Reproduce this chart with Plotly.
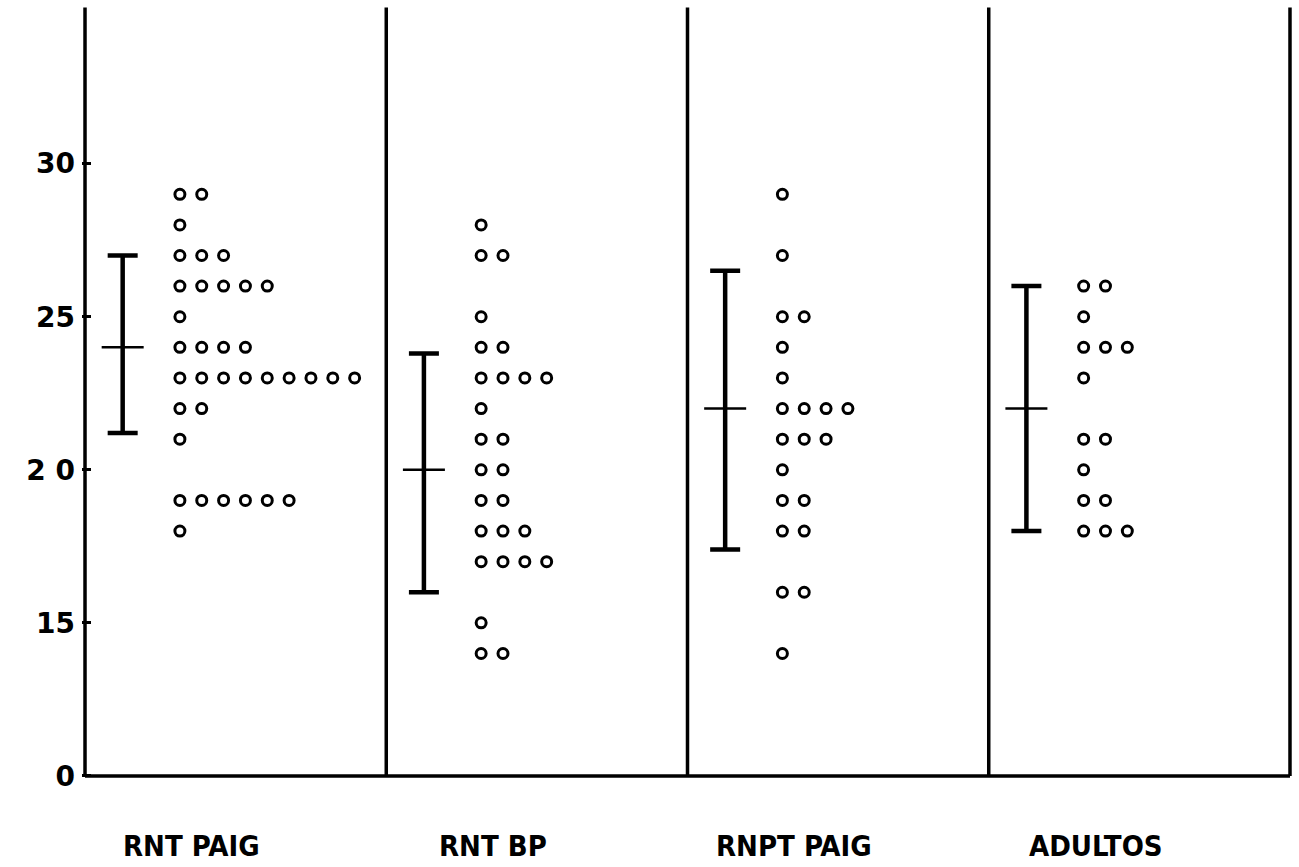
import plotly.graph_objects as go

categories = ["RNT PAIG", "RNT BP", "RNPT PAIG", "ADULTOS"]

rnt_paig = [29]*2 + [28]*1 + [27]*3 + [26]*5 + [25]*1 + [24]*4 + [23]*9 + [22]*2 + [21]*1 + [19]*6 + [18]*1
rnt_bp = [28]*1 + [27]*2 + [25]*1 + [24]*2 + [23]*4 + [22]*1 + [21]*2 + [20]*2 + [19]*2 + [18]*3 + [17]*4 + [15]*1 + [14]*2
rnpt_paig = [29]*1 + [27]*1 + [25]*2 + [24]*1 + [23]*1 + [22]*4 + [21]*3 + [20]*1 + [19]*2 + [18]*2 + [16]*2 + [14]*1
adultos = [26]*2 + [25]*1 + [24]*3 + [23]*1 + [21]*2 + [20]*1 + [19]*2 + [18]*3

groups = [rnt_paig, rnt_bp, rnpt_paig, adultos]

means = [24.0, 20.0, 22.0, 22.0]
upper = [27.0, 23.8, 26.5, 26.0]
lower = [21.2, 16.0, 17.4, 18.0]

ytick_vals = [10, 15, 20, 25, 30]
ytick_text = ["0", "15", "2 0", "25", "30"]

Y_BASE, Y_TOP = 10.0, 35.1
BAR_OFFSET = 0.125
DOT_START = 0.315
DOT_STEP = 0.0725

fig = go.Figure()

# frame: left axis, panel dividers, right edge, baseline
fx, fy = [], []
for i in range(0, 5):
    fx += [i, i, None]
    fy += [Y_BASE, Y_TOP, None]
fx += [0, 4]
fy += [Y_BASE, Y_BASE]
fig.add_trace(go.Scatter(x=fx, y=fy, mode="lines",
                         line=dict(color="black", width=3.5),
                         showlegend=False, hoverinfo="skip"))

for gi, vals in enumerate(groups):
    counts = {}
    xs, ys = [], []
    for v in vals:
        k = counts.get(v, 0)
        counts[v] = k + 1
        xs.append(gi + DOT_START + k * DOT_STEP)
        ys.append(v)
    fig.add_trace(go.Scatter(
        x=xs, y=ys, mode="markers",
        marker=dict(symbol="circle-open", size=10, color="black",
                    line=dict(width=3, color="black")),
        showlegend=False, hoverinfo="skip"))
    fig.add_trace(go.Scatter(
        x=[gi + BAR_OFFSET], y=[means[gi]], mode="markers",
        marker=dict(symbol="line-ew", size=30, color="black",
                    line=dict(width=2.5, color="black")),
        error_y=dict(type="data", symmetric=False,
                     array=[upper[gi] - means[gi]],
                     arrayminus=[means[gi] - lower[gi]],
                     thickness=4.5, width=15, color="black"),
        showlegend=False, hoverinfo="skip"))

for i, c in enumerate(categories):
    fig.add_annotation(x=i + 0.355, y=Y_BASE, xref="x", yref="y",
                       text=c, showarrow=False,
                       yanchor="middle", yshift=-70,
                       font=dict(family="DejaVu Sans Condensed, Liberation Sans", size=29,
                                 color="black", weight="bold"))

fig.update_layout(
    width=1299, height=867,
    margin=dict(l=82, r=6, t=6, b=88),
    plot_bgcolor="white", paper_bgcolor="white",
    xaxis=dict(range=[-0.01, 4.01], showgrid=False, zeroline=False,
               showticklabels=False, ticks="", automargin=False),
    yaxis=dict(range=[9.9, Y_TOP + 0.05], showgrid=False, zeroline=False,
               tickvals=ytick_vals, ticktext=ytick_text,
               ticks="inside", ticklen=9, tickwidth=2.5, tickcolor="black",
               ticklabelstandoff=6, automargin=False,
               tickfont=dict(family="DejaVu Sans", size=28, color="black", weight="bold")),
)

fig.write_html("out.html", config={"displayModeBar": False},
               post_script="document.body.style.margin='0';")
